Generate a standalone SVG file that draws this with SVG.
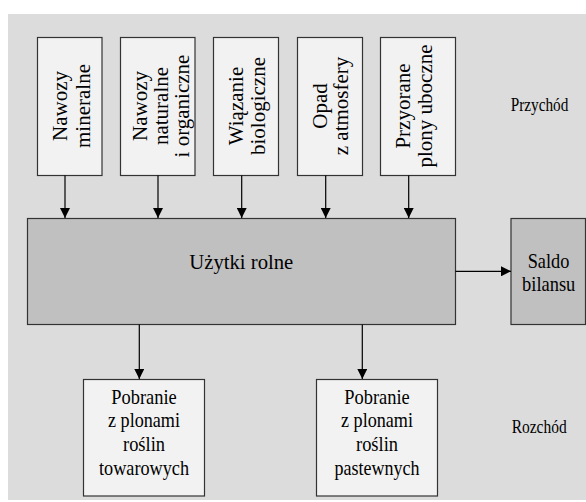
<svg xmlns="http://www.w3.org/2000/svg" width="586" height="502" viewBox="0 0 586 502">
<style>
text{font-family:"Liberation Serif","Times New Roman",serif;fill:#000;text-anchor:middle}
.v{font-size:21px}
.h{font-size:21px}
.lab{font-size:18px;text-anchor:start}
.lite{fill:#f2f2f2;stroke:#333;stroke-width:1.2}
.dark{fill:#c0c0c0;stroke:#333;stroke-width:1.2}
.con line{stroke:#000;stroke-width:1.2;marker-end:url(#ah)}
</style>
<defs>
<marker id="ah" markerUnits="userSpaceOnUse" markerWidth="10" markerHeight="10" refX="10" refY="5" orient="auto">
<path d="M0,0 L10,5 L0,10 z" fill="#000"/>
</marker>
</defs>
<rect x="0" y="0" width="586" height="502" fill="#fff"/>
<rect x="8" y="14" width="578" height="486" fill="#dcdcdc"/>

<g id="n1">
<rect class="lite" x="37.5" y="37.5" width="64.5" height="138"/>
<text class="v" transform="translate(66.7,106) rotate(-90)">Nawozy</text>
<text class="v" transform="translate(89.5,106) rotate(-90)">mineralne</text>
</g>
<g id="n2">
<rect class="lite" x="120.5" y="37.5" width="74.5" height="138"/>
<text class="v" transform="translate(147,106) rotate(-90)">Nawozy</text>
<text class="v" transform="translate(168,106) rotate(-90)">naturalne</text>
<text class="v" transform="translate(189,106) rotate(-90)">i organiczne</text>
</g>
<g id="n3">
<rect class="lite" x="213.5" y="37.5" width="65" height="138"/>
<text class="v" transform="translate(243.3,106) rotate(-90)">Wiązanie</text>
<text class="v" transform="translate(265,106) rotate(-90)">biologiczne</text>
</g>
<g id="n4">
<rect class="lite" x="297.5" y="37.5" width="65" height="138"/>
<text class="v" transform="translate(326.7,106) rotate(-90)">Opad</text>
<text class="v" transform="translate(348.3,106) rotate(-90)">z atmosfery</text>
</g>
<g id="n5">
<rect class="lite" x="380.5" y="37.5" width="75" height="138"/>
<text class="v" transform="translate(410,106) rotate(-90)">Przyorane</text>
<text class="v" transform="translate(431.7,106) rotate(-90)">plony uboczne</text>
</g>

<g id="main">
<rect class="dark" x="27.5" y="218.5" width="428" height="106"/>
<text x="241.3" y="269.3" style="font-size:21.5px" textLength="104" lengthAdjust="spacingAndGlyphs">Użytki rolne</text>
</g>
<g id="saldo">
<rect class="dark" x="511" y="218.5" width="74.5" height="106"/>
<text class="h" x="548.5" y="267.5" textLength="41.7" lengthAdjust="spacingAndGlyphs">Saldo</text>
<text class="h" x="548.7" y="290.7" textLength="53.3" lengthAdjust="spacingAndGlyphs">bilansu</text>
</g>
<g id="b1">
<rect class="lite" x="83.5" y="379.5" width="121" height="116.5"/>
<text class="h" x="144" y="403.5" textLength="65.5" lengthAdjust="spacingAndGlyphs">Pobranie</text>
<text class="h" x="144" y="427" textLength="72" lengthAdjust="spacingAndGlyphs">z plonami</text>
<text class="h" x="144" y="451" textLength="42" lengthAdjust="spacingAndGlyphs">roślin</text>
<text class="h" x="144" y="475" textLength="90" lengthAdjust="spacingAndGlyphs">towarowych</text>
</g>
<g id="b2">
<rect class="lite" x="316.5" y="379.5" width="121" height="116.5"/>
<text class="h" x="377" y="403.5" textLength="65.5" lengthAdjust="spacingAndGlyphs">Pobranie</text>
<text class="h" x="377" y="427" textLength="72" lengthAdjust="spacingAndGlyphs">z plonami</text>
<text class="h" x="377" y="451" textLength="42" lengthAdjust="spacingAndGlyphs">roślin</text>
<text class="h" x="377" y="475" textLength="85" lengthAdjust="spacingAndGlyphs">pastewnych</text>
</g>
<g id="labels">
<text class="lab" x="510.7" y="110.7" textLength="57.6" lengthAdjust="spacingAndGlyphs">Przychód</text>
<text class="lab" x="511.7" y="433.3" textLength="55" lengthAdjust="spacingAndGlyphs">Rozchód</text>
</g>

<g id="connectors" class="con">
<line x1="65" y1="175.5" x2="65" y2="218"/>
<line x1="158" y1="175.5" x2="158" y2="218"/>
<line x1="241.7" y1="175.5" x2="241.7" y2="218"/>
<line x1="325.7" y1="175.5" x2="325.7" y2="218"/>
<line x1="408.7" y1="175.5" x2="408.7" y2="218"/>
<line x1="455.5" y1="271.3" x2="511" y2="271.3"/>
<line x1="139.3" y1="324.5" x2="139.3" y2="379"/>
<line x1="362.3" y1="324.5" x2="362.3" y2="379"/>
</g>
</svg>
